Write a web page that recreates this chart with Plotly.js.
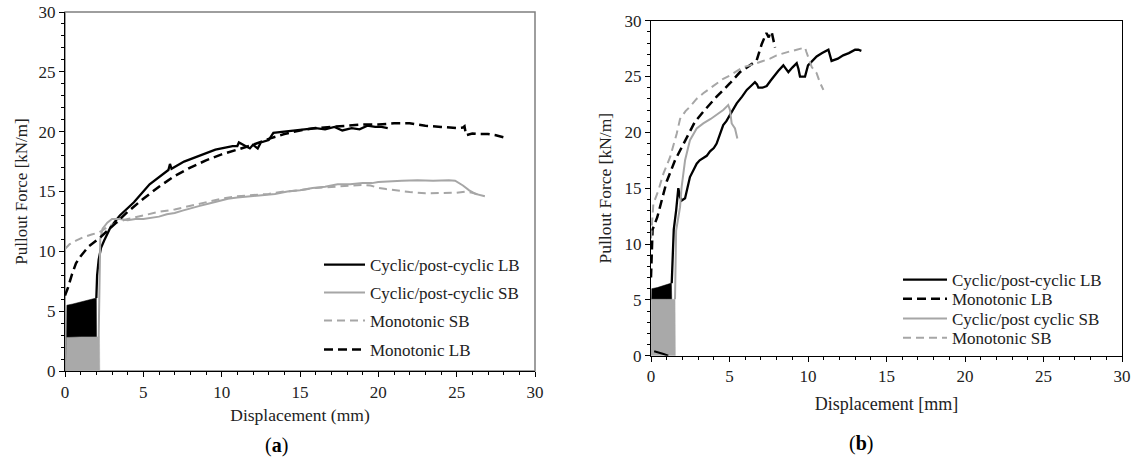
<!DOCTYPE html>
<html>
<head>
<meta charset="utf-8">
<script src="https://cdn.plot.ly/plotly-3.0.1.min.js"></script>
<style>html,body{margin:0;padding:0;background:#fff;}#chart{width:1136px;height:462px;}</style>
</head>
<body>
<div id="chart"></div>
<script>
// ---------- Panel (a) data ----------
var aCycLBBandX = [0.08, 0.12, 0.5, 1.0, 1.5, 2.0, 2.02, 0.08];
var aCycLBBandY = [0.0, 5.5, 5.6, 5.75, 5.9, 6.1, 0.0, 0.0];
var aCycSBBandX = [0.05, 0.1, 1.0, 2.2, 2.22, 0.05];
var aCycSBBandY = [0.0, 2.8, 2.85, 2.85, 0.0, 0.0];

var aCycLBX = [2.0, 2.05, 2.15, 2.3, 2.5, 2.7, 2.9, 3.5, 4.4, 5.4, 6.1, 6.6, 6.7, 6.8, 7.6, 8.6, 9.6, 10.7, 11.0, 11.1, 11.5, 11.8, 12.0, 12.3, 12.5, 13.0, 13.3, 14.0, 15.0, 16.0, 16.6, 17.2, 17.7, 18.3, 18.8, 19.3, 19.8, 20.2, 20.6];
var aCycLBY = [6.1, 8.0, 9.3, 10.3, 10.9, 11.5, 12.0, 13.0, 14.1, 15.6, 16.3, 16.8, 17.3, 16.9, 17.5, 18.0, 18.5, 18.8, 18.8, 19.1, 18.8, 18.6, 18.9, 18.6, 19.1, 19.3, 19.9, 20.0, 20.2, 20.3, 20.2, 20.4, 20.1, 20.3, 20.2, 20.5, 20.4, 20.4, 20.3];

var aCycSBX = [2.15, 2.2, 2.25, 2.4, 2.7, 3.0, 3.5, 4.0, 4.5, 5.0, 5.5, 6.0, 6.5, 7.0, 7.5, 8.0, 8.6, 9.2, 9.8, 10.4, 11.0, 11.8, 12.6, 13.4, 14.2, 15.0, 15.8, 16.6, 17.4, 18.2, 19.0, 19.6, 20.0, 20.5, 21.5, 22.5, 23.5, 24.5, 24.9, 25.4, 25.8, 26.2, 26.8];
var aCycSBY = [2.85, 6.0, 11.0, 11.9, 12.4, 12.7, 12.7, 12.6, 12.7, 12.7, 12.8, 12.9, 13.1, 13.2, 13.4, 13.6, 13.8, 14.0, 14.2, 14.4, 14.5, 14.6, 14.7, 14.8, 15.0, 15.1, 15.3, 15.4, 15.6, 15.6, 15.7, 15.7, 15.8, 15.85, 15.9, 15.95, 15.9, 15.95, 15.9, 15.5, 15.1, 14.8, 14.6];

var aMonSBX = [0.0, 0.3, 0.7, 1.2, 1.7, 2.2, 2.8, 3.5, 4.0, 5.0, 6.0, 7.0, 8.0, 9.0, 10.0, 11.0, 12.0, 13.0, 14.0, 15.0, 16.0, 17.0, 18.0, 19.0, 19.5, 20.0, 20.5, 21.0, 22.0, 23.0, 24.0, 25.0, 25.6, 26.0, 26.5];
var aMonSBY = [10.2, 10.6, 10.9, 11.2, 11.4, 11.6, 12.1, 12.5, 12.7, 13.0, 13.3, 13.5, 13.8, 14.1, 14.4, 14.6, 14.7, 14.8, 15.0, 15.1, 15.3, 15.4, 15.5, 15.55, 15.5, 15.3, 15.2, 15.1, 14.95, 14.85, 14.85, 14.9, 15.0, 14.9, 14.7];

var aMonLBX = [0.0, 0.2, 0.45, 0.7, 1.0, 1.5, 2.2, 3.0, 4.0, 5.0, 6.0, 7.0, 8.0, 9.0, 10.0, 11.0, 12.0, 13.0, 14.0, 15.0, 16.0, 17.0, 18.0, 19.0, 20.0, 21.0, 22.0, 23.0, 24.0, 25.0, 25.4, 25.5, 25.6, 26.0, 26.5, 27.0, 27.5, 28.1];
var aMonLBY = [6.3, 7.0, 8.1, 9.0, 9.6, 10.4, 11.1, 12.1, 13.3, 14.4, 15.4, 16.3, 17.0, 17.6, 18.1, 18.5, 18.9, 19.4, 19.8, 20.1, 20.3, 20.4, 20.5, 20.6, 20.6, 20.7, 20.7, 20.5, 20.4, 20.3, 20.35, 20.45, 19.7, 19.85, 19.8, 19.8, 19.7, 19.5];

// ---------- Panel (b) data ----------
var bCycLBBandX = [0.04, 0.05, 0.4, 0.8, 1.3, 1.32, 0.04];
var bCycLBBandY = [5.0, 6.0, 6.1, 6.3, 6.5, 5.0, 5.0];
var bCycSBBandX = [0.0, 0.02, 1.0, 1.53, 1.55, 0.0];
var bCycSBBandY = [0.0, 5.05, 5.05, 5.05, 0.0, 0.0];
var bUnloadX = [0.2, 0.5, 0.8, 1.1];
var bUnloadY = [0.4, 0.3, 0.15, 0.0];

var bCycLBX = [1.32, 1.38, 1.45, 1.6, 1.74, 1.85, 1.95, 2.17, 2.3, 2.48, 2.7, 2.91, 3.1, 3.33, 3.55, 3.76, 4.0, 4.18, 4.4, 4.6, 4.8, 5.03, 5.25, 5.46, 5.8, 6.1, 6.4, 6.62, 6.75, 6.84, 7.1, 7.37, 7.6, 7.8, 8.1, 8.43, 8.6, 8.75, 9.0, 9.28, 9.39, 9.49, 9.7, 9.81, 10.0, 10.3, 10.55, 10.9, 11.3, 11.5, 11.9, 12.24, 12.6, 13.0, 13.2, 13.4];
var bCycLBY = [6.5, 9.0, 11.3, 13.0, 15.0, 14.2, 13.9, 14.1, 15.0, 16.0, 16.6, 17.2, 17.5, 17.7, 17.9, 18.3, 18.6, 19.0, 19.9, 20.65, 21.0, 21.55, 22.1, 22.6, 23.2, 23.8, 24.2, 24.5, 24.3, 24.0, 24.0, 24.15, 24.6, 25.0, 25.5, 26.0, 25.7, 25.4, 25.8, 26.2, 25.7, 25.0, 25.0, 25.0, 26.0, 26.4, 26.8, 27.1, 27.4, 26.4, 26.6, 26.9, 27.1, 27.4, 27.4, 27.3];

var bMonLBX = [0.0, 0.04, 0.1, 0.4, 0.7, 1.0, 1.53, 2.17, 2.8, 3.33, 4.18, 5.03, 5.67, 6.3, 6.73, 7.05, 7.35, 7.5, 7.6, 7.7, 7.8, 7.9];
var bMonLBY = [7.0, 9.5, 11.3, 12.4, 13.9, 15.6, 17.5, 19.3, 20.95, 21.85, 23.2, 24.4, 25.4, 26.0, 26.45, 27.9, 28.9, 28.5, 29.0, 28.9, 28.2, 27.6];

var bCycSBX = [1.53, 1.55, 1.6, 1.85, 1.95, 2.17, 2.48, 2.91, 3.33, 3.8, 4.18, 4.6, 4.92, 5.03, 5.14, 5.35, 5.5];
var bCycSBY = [5.05, 8.0, 11.2, 13.3, 15.1, 17.5, 19.3, 20.35, 20.8, 21.2, 21.55, 22.0, 22.45, 22.0, 20.8, 20.35, 19.45];

var bMonSBX = [0.0, 0.04, 0.15, 0.47, 0.79, 1.22, 1.64, 1.85, 2.2, 2.48, 2.9, 3.33, 3.8, 4.18, 4.6, 5.03, 5.45, 5.88, 6.3, 6.73, 7.15, 7.58, 8.0, 8.43, 8.85, 9.28, 9.55, 9.81, 9.9, 10.0, 10.24, 10.55, 10.75, 10.98];
var bMonSBY = [10.5, 11.25, 13.6, 14.8, 16.3, 17.8, 19.9, 21.2, 21.9, 22.3, 23.0, 23.5, 24.0, 24.4, 24.8, 25.1, 25.5, 25.85, 26.0, 26.2, 26.4, 26.6, 26.9, 27.1, 27.25, 27.4, 27.5, 27.6, 27.2, 26.8, 25.85, 25.3, 24.5, 23.8];

// ---------- Labels ----------
var namesA = ['Cyclic/post-cyclic LB', 'Cyclic/post-cyclic SB', 'Monotonic SB', 'Monotonic LB'];
var namesB = ['Cyclic/post-cyclic LB', 'Monotonic LB', 'Cyclic/post cyclic SB', 'Monotonic SB'];
var xTitleA = 'Displacement (mm)';
var xTitleB = 'Displacement [mm]';
var yTitle = 'Pullout Force [kN/m]';
var panelLabels = ['(<b>a</b>)', '(<b>b</b>)'];

var FONT = 'Liberation Serif, Times New Roman, serif';
var BLACK = '#000000';
var GRAY = '#a6a6a6';
var FILLGRAY = '#a9a9a9';

function band(x, y, color, xa, ya) {
  return {x: x, y: y, xaxis: xa, yaxis: ya, type: 'scatter', mode: 'lines', fill: 'toself',
    fillcolor: color, line: {color: color, width: 0.5}, showlegend: false, hoverinfo: 'skip'};
}
function line(x, y, name, color, width, dash, xa, ya, lg) {
  return {x: x, y: y, xaxis: xa, yaxis: ya, type: 'scatter', mode: 'lines', name: name,
    line: {color: color, width: width, dash: dash}, legend: lg, showlegend: true};
}

var data = [
  band(aCycLBBandX, aCycLBBandY, BLACK, 'x', 'y'),
  band(aCycSBBandX, aCycSBBandY, FILLGRAY, 'x', 'y'),
  line(aCycLBX, aCycLBY, namesA[0], BLACK, 2.3, 'solid', 'x', 'y', 'legend'),
  line(aCycSBX, aCycSBY, namesA[1], GRAY, 2, 'solid', 'x', 'y', 'legend2'),
  line(aMonSBX, aMonSBY, namesA[2], GRAY, 2, '8px,5px', 'x', 'y', 'legend3'),
  line(aMonLBX, aMonLBY, namesA[3], BLACK, 2.5, '9px,5px', 'x', 'y', 'legend4'),

  band(bCycLBBandX, bCycLBBandY, BLACK, 'x2', 'y2'),
  band(bCycSBBandX, bCycSBBandY, FILLGRAY, 'x2', 'y2'),
  {x: bUnloadX, y: bUnloadY, xaxis: 'x2', yaxis: 'y2', type: 'scatter', mode: 'lines',
   line: {color: BLACK, width: 2}, showlegend: false, hoverinfo: 'skip'},
  line(bCycLBX, bCycLBY, namesB[0], BLACK, 2.3, 'solid', 'x2', 'y2', 'legend5'),
  line(bMonLBX, bMonLBY, namesB[1], BLACK, 2.5, '9px,5px', 'x2', 'y2', 'legend6'),
  line(bCycSBX, bCycSBY, namesB[2], GRAY, 2, 'solid', 'x2', 'y2', 'legend7'),
  line(bMonSBX, bMonSBY, namesB[3], GRAY, 2, '8px,5px', 'x2', 'y2', 'legend8')
];

function axis(extra) {
  var a = {range: [0, 30], dtick: 5, tick0: 0, ticks: 'outside', ticklen: 5, tickwidth: 1, tickcolor: BLACK,
    showline: true, linecolor: BLACK, linewidth: 1.2, showgrid: false, zeroline: false,
    tickfont: {family: FONT, size: 17, color: '#222'},
    minor: {dtick: 1, ticks: 'outside', ticklen: 3, tickwidth: 1, tickcolor: BLACK, showgrid: false},
    fixedrange: true};
  for (var k in extra) a[k] = extra[k];
  return a;
}

// plot-area geometry in pixels (paper coords)
var W = 1136, H = 462, ML = 65, MR = 14, MT = 12, MB = 91;
var PW = W - ML - MR, PH = H - MT - MB;
function px(xp) { return (xp - ML) / PW; }
function py(yp) { return (H - MB - yp) / PH; }

function leg(xp, yp, iw) {
  return {x: px(xp), y: py(yp), xanchor: 'left', yanchor: 'middle', bgcolor: 'rgba(0,0,0,0)',
    borderwidth: 0, itemwidth: iw, font: {family: FONT, size: 17, color: '#222'},
    itemclick: false, itemdoubleclick: false};
}

var layout = {
  width: W, height: H,
  margin: {l: ML, r: MR, t: MT, b: MB, pad: 0},
  paper_bgcolor: '#ffffff', plot_bgcolor: '#ffffff',
  font: {family: FONT, size: 17, color: '#222'},
  xaxis: axis({domain: [0, px(535)], anchor: 'y',
    title: {text: xTitleA, font: {family: FONT, size: 17.5, color: '#222'}, standoff: 8}}),
  yaxis: axis({domain: [0, 1], anchor: 'x',
    title: {text: yTitle, font: {family: FONT, size: 17, color: '#222'}, standoff: 6}}),
  xaxis2: axis({domain: [px(651), 1], anchor: 'y2', mirror: true,
    title: {text: xTitleB, font: {family: FONT, size: 18, color: '#222'}, standoff: 12}}),
  yaxis2: axis({domain: [py(355.7), py(20.7)], anchor: 'x2', mirror: true,
    title: {text: yTitle, font: {family: FONT, size: 17.5, color: '#222'}, standoff: 8}}),
  shapes: [
    {type: 'rect', xref: 'x domain', yref: 'y domain', x0: 0, x1: 1, y0: 0, y1: 1,
     line: {color: '#7f7f7f', width: 1.5}, layer: 'below'}
  ],
  legend: leg(319, 265, 41),
  legend2: leg(319, 293, 41),
  legend3: leg(319, 321, 41),
  legend4: leg(319, 350, 41),
  legend5: leg(898, 280, 44),
  legend6: leg(898, 299.3, 44),
  legend7: leg(898, 319, 44),
  legend8: leg(898, 338.3, 44),
  annotations: [
    {text: panelLabels[0], xref: 'paper', yref: 'paper', x: px(276), y: py(445), showarrow: false,
     xanchor: 'center', yanchor: 'middle', font: {family: FONT, size: 20, color: '#000'}},
    {text: panelLabels[1], xref: 'paper', yref: 'paper', x: px(861), y: py(443), showarrow: false,
     xanchor: 'center', yanchor: 'middle', font: {family: FONT, size: 20, color: '#000'}}
  ],
  showlegend: true
};

Plotly.newPlot('chart', data, layout, {displayModeBar: false, staticPlot: true});
</script>
</body>
</html>
